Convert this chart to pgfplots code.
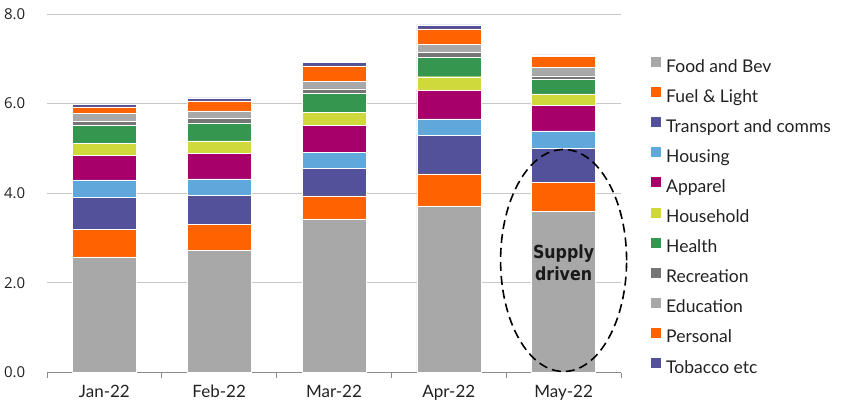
\documentclass[border=0pt]{standalone}
\usepackage{pgfplots}
\pgfplotsset{compat=1.18}
\usepackage{pgfplotstable}
\usepackage{fontspec}
\setmainfont{Lato}
\newfontfamily\ylab{Open Sans}
\newfontfamily\condb[FakeStretch=0.88]{DejaVu Sans}
\definecolor{foodc}{HTML}{A8A8A8}
\definecolor{fuelc}{HTML}{FF6200}
\definecolor{transc}{HTML}{525199}
\definecolor{housc}{HTML}{60A8DC}
\definecolor{appc}{HTML}{A8006A}
\definecolor{hholdc}{HTML}{D0D93C}
\definecolor{healc}{HTML}{34964F}
\definecolor{recc}{HTML}{767676}
\definecolor{educc}{HTML}{A8A8A8}
\definecolor{persc}{HTML}{FF6200}
\definecolor{tobc}{HTML}{525199}
\definecolor{gridc}{HTML}{C8C8C8}
\definecolor{axisc}{HTML}{8A8A8A}
\definecolor{txtc}{HTML}{222222}
\pgfplotstableread{
m Food Fuel Transport Housing Apparel Household Health Recreation Education Personal Tobacco
0 2.58 0.62 0.71 0.39 0.55 0.27 0.40 0.09 0.18 0.14 0.06
1 2.73 0.58 0.65 0.36 0.57 0.28 0.40 0.10 0.17 0.22 0.07
2 3.43 0.51 0.62 0.36 0.60 0.29 0.42 0.10 0.17 0.34 0.08
3 3.72 0.71 0.86 0.37 0.64 0.30 0.44 0.10 0.19 0.34 0.09
4 3.60 0.65 0.75 0.39 0.57 0.26 0.32 0.08 0.19 0.25 0.03
}\data
\begin{document}
\begin{tikzpicture}
\useasboundingbox (0,0) rectangle (849pt,410pt);
\begin{axis}[
  at={(47pt,37.5pt)}, anchor=south west,
  scale only axis, width=574pt, height=358.5pt,
  xmin=-0.5, xmax=4.5, ymin=0, ymax=8,
  enlargelimits=false, clip=false,
  ybar stacked, bar width=64pt,
  legend image code/.code={\fill[#1,draw=none] (0pt,0pt) rectangle (10pt,10pt);},
  axis x line*=bottom,
  y axis line style={draw=none},
  x axis line style={color=axisc, line width=0.8pt},
  /pgf/number format/assume math mode=true,
  ytick={0,2,4,6,8},
  yticklabel={\pgfmathprintnumber[fixed,fixed zerofill,precision=1]{\tick}},
  yticklabel style={font=\ylab\fontsize{15}{18}\selectfont, text=txtc, xshift=-14pt},
  ytick style={draw=none},
  ymajorgrids, grid style={color=gridc, line width=0.8pt},
  xtick={0,1,2,3,4},
  xticklabels={Jan-22,Feb-22,Mar-22,Apr-22,May-22},
  xticklabel style={font=\fontsize{17}{20}\selectfont, text=txtc, yshift=-5pt},
  major x tick style={draw=none},
  minor xtick={-0.5,0.5,1.5,2.5,3.5,4.5},
  minor x tick style={color=axisc, line width=0.8pt},
  minor tick length=5pt, tick align=outside,
  legend cell align=left,
  legend style={at={(1,1)}, anchor=north west, xshift=30pt, yshift=-37.8pt,
    draw=none, fill=none, inner sep=0pt, row sep=0pt, column sep=5pt,
    font=\fontsize{17.5}{19}\selectfont, text=txtc,
    nodes={inner sep=0pt, text height=20pt, text depth=10.1pt}},
]
\addplot[fill=foodc, draw=white, line width=0.3pt] table[x=m,y=Food]{\data};
\addplot[fill=fuelc, draw=white, line width=0.3pt] table[x=m,y=Fuel]{\data};
\addplot[fill=transc, draw=white, line width=0.3pt] table[x=m,y=Transport]{\data};
\addplot[fill=housc, draw=white, line width=0.3pt] table[x=m,y=Housing]{\data};
\addplot[fill=appc, draw=white, line width=0.3pt] table[x=m,y=Apparel]{\data};
\addplot[fill=hholdc, draw=white, line width=0.3pt] table[x=m,y=Household]{\data};
\addplot[fill=healc, draw=white, line width=0.3pt] table[x=m,y=Health]{\data};
\addplot[fill=recc, draw=white, line width=0.3pt] table[x=m,y=Recreation]{\data};
\addplot[fill=educc, draw=white, line width=0.3pt] table[x=m,y=Education]{\data};
\addplot[fill=persc, draw=white, line width=0.3pt] table[x=m,y=Personal]{\data};
\addplot[fill=tobc, draw=white, line width=0.3pt] table[x=m,y=Tobacco]{\data};
\legend{Food and Bev, Fuel \& Light, Transport and comms, Housing, Apparel, Household, Health, Recreation, Education, Personal, Tobacco etc}
\coordinate (ec) at (axis cs:4,2.5);
\coordinate (tc) at (axis cs:4,2.45);
\end{axis}
\draw[black, line width=1.6pt, dash pattern=on 9pt off 5pt] (ec) ellipse [x radius=63pt, y radius=111pt];
\node[font=\condb\bfseries\fontsize{18}{22}\selectfont, align=center, text=black!90] at (tc) {Supply\\driven};
\end{tikzpicture}
\end{document}
